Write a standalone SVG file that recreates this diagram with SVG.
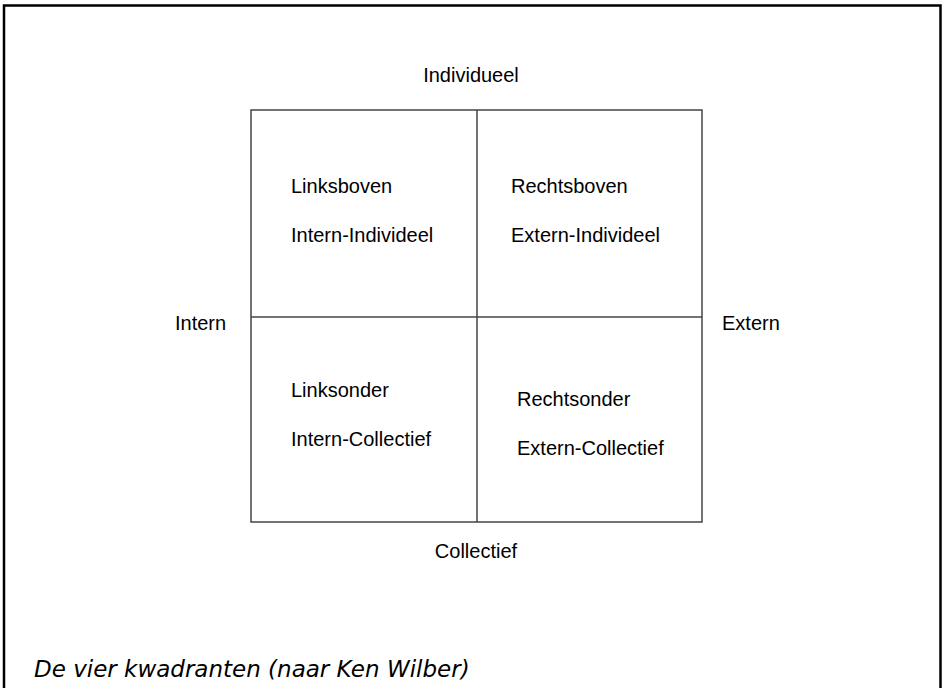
<svg xmlns="http://www.w3.org/2000/svg" width="945" height="688" viewBox="0 0 945 688">
<style>
.t{font-family:"Liberation Sans",Arial,sans-serif;font-size:20px;fill:#000}
.c{font-family:"DejaVu Sans",Verdana,sans-serif;font-size:23px;font-style:italic;fill:#000}
.g{stroke:#444;stroke-width:1.5;fill:none}
</style>
<rect x="0" y="0" width="945" height="688" fill="#fff"/>
<path d="M4,690 V5.5 H940.5 V690" fill="none" stroke="#000" stroke-width="2.5"/>
<g id="grid">
<rect class="g" x="251" y="110" width="451" height="412"/>
<line class="g" x1="477" y1="110" x2="477" y2="522"/>
<line class="g" x1="251" y1="317" x2="702" y2="317"/>
</g>
<g id="axes">
<text class="t" x="471" y="82" text-anchor="middle">Individueel</text>
<text class="t" x="476" y="558" text-anchor="middle">Collectief</text>
<text class="t" x="175" y="330">Intern</text>
<text class="t" x="722" y="330">Extern</text>
</g>
<g id="q-lb">
<text class="t" x="291" y="193">Linksboven</text>
<text class="t" x="291" y="242">Intern-Individeel</text>
</g>
<g id="q-rb">
<text class="t" x="511" y="193">Rechtsboven</text>
<text class="t" x="511" y="242">Extern-Individeel</text>
</g>
<g id="q-lo">
<text class="t" x="291" y="397">Linksonder</text>
<text class="t" x="291" y="446">Intern-Collectief</text>
</g>
<g id="q-ro">
<text class="t" x="517" y="406">Rechtsonder</text>
<text class="t" x="517" y="455">Extern-Collectief</text>
</g>
<text class="c" x="34" y="677">De vier kwadranten (naar Ken Wilber)</text>
</svg>
